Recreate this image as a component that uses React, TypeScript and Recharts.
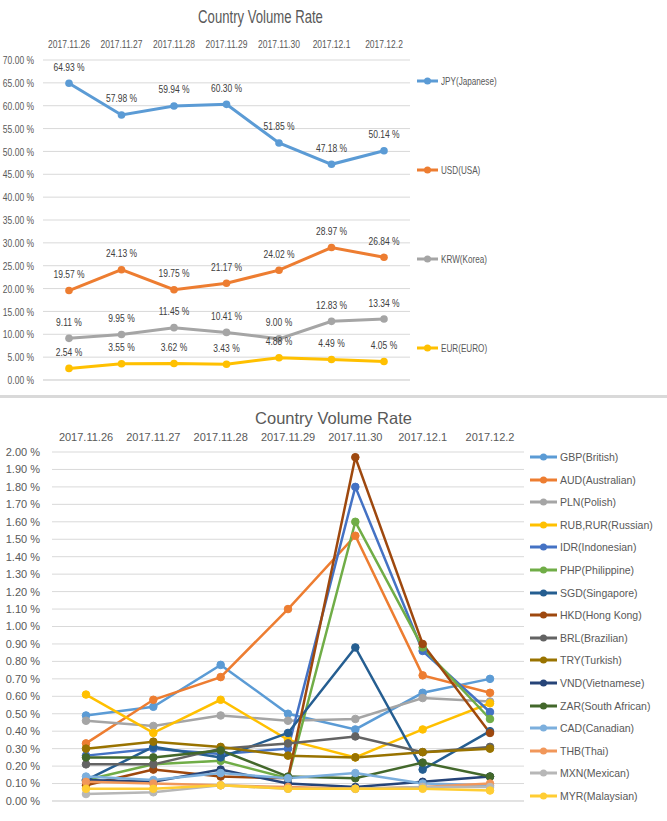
import { CartesianGrid, Line, LineChart, XAxis, YAxis } from "recharts";

const dates = ["2017.11.26", "2017.11.27", "2017.11.28", "2017.11.29", "2017.11.30", "2017.12.1", "2017.12.2"];

// top chart (major currencies), percent
const topTicks = [0, 5, 10, 15, 20, 25, 30, 35, 40, 45, 50, 55, 60, 65, 70];
const jpy = [64.93, 57.98, 59.94, 60.3, 51.85, 47.18, 50.14];
const usd = [19.57, 24.13, 19.75, 21.17, 24.02, 28.97, 26.84];
const krw = [9.11, 9.95, 11.45, 10.41, 9.0, 12.83, 13.34];
const eur = [2.54, 3.55, 3.62, 3.43, 4.88, 4.49, 4.05];

// bottom chart (minor currencies), percent
const bottomTicks = [0, 0.1, 0.2, 0.3, 0.4, 0.5, 0.6, 0.7, 0.8, 0.9, 1.0, 1.1, 1.2, 1.3, 1.4, 1.5, 1.6, 1.7, 1.8, 1.9, 2.0];
const gbp = [0.49, 0.54, 0.78, 0.5, 0.41, 0.62, 0.7];
const aud = [0.33, 0.58, 0.71, 1.1, 1.52, 0.72, 0.62];
const pln = [0.46, 0.43, 0.49, 0.46, 0.47, 0.59, 0.57];
const rub = [0.61, 0.39, 0.58, 0.35, 0.25, 0.41, 0.56];
const idr = [0.26, 0.3, 0.27, 0.3, 1.8, 0.86, 0.51];
const php = [0.12, 0.21, 0.23, 0.13, 1.6, 0.88, 0.47];
const sgd = [0.12, 0.31, 0.25, 0.39, 0.88, 0.18, 0.4];
const hkd = [0.09, 0.18, 0.14, 0.13, 1.97, 0.9, 0.39];
const brl = [0.21, 0.21, 0.3, 0.33, 0.37, 0.28, 0.31];
const tryl = [0.3, 0.34, 0.31, 0.26, 0.25, 0.28, 0.3];
const vnd = [0.12, 0.11, 0.18, 0.1, 0.08, 0.11, 0.14];
const zar = [0.25, 0.25, 0.29, 0.14, 0.13, 0.22, 0.14];
const cad = [0.14, 0.12, 0.16, 0.13, 0.16, 0.1, 0.09];
const thb = [0.11, 0.1, 0.09, 0.08, 0.07, 0.08, 0.1];
const mxn = [0.04, 0.05, 0.09, 0.07, 0.07, 0.08, 0.08];
const myr = [0.07, 0.07, 0.09, 0.07, 0.07, 0.07, 0.06];

const edgeTicks = [0, 1, 2, 3, 4, 5, 6, 7];

type Series = { key: string; name: string; color: string; values: number[] };

const topSeries: Series[] = [
  { key: "jpy", name: "JPY(Japanese)", color: "#5B9BD5", values: jpy },
  { key: "usd", name: "USD(USA)", color: "#ED7D31", values: usd },
  { key: "krw", name: "KRW(Korea)", color: "#A5A5A5", values: krw },
  { key: "eur", name: "EUR(EURO)", color: "#FFC000", values: eur },
];

const bottomSeries: Series[] = [
  { key: "gbp", name: "GBP(British)", color: "#5B9BD5", values: gbp },
  { key: "aud", name: "AUD(Australian)", color: "#ED7D31", values: aud },
  { key: "pln", name: "PLN(Polish)", color: "#A5A5A5", values: pln },
  { key: "rub", name: "RUB,RUR(Russian)", color: "#FFC000", values: rub },
  { key: "idr", name: "IDR(Indonesian)", color: "#4472C4", values: idr },
  { key: "php", name: "PHP(Philippine)", color: "#70AD47", values: php },
  { key: "sgd", name: "SGD(Singapore)", color: "#255E91", values: sgd },
  { key: "hkd", name: "HKD(Hong Kong)", color: "#9E480E", values: hkd },
  { key: "brl", name: "BRL(Brazilian)", color: "#636363", values: brl },
  { key: "try", name: "TRY(Turkish)", color: "#997300", values: tryl },
  { key: "vnd", name: "VND(Vietnamese)", color: "#264478", values: vnd },
  { key: "zar", name: "ZAR(South African)", color: "#43682B", values: zar },
  { key: "cad", name: "CAD(Canadian)", color: "#7CAFDD", values: cad },
  { key: "thb", name: "THB(Thai)", color: "#F1975A", values: thb },
  { key: "mxn", name: "MXN(Mexican)", color: "#B7B7B7", values: mxn },
  { key: "myr", name: "MYR(Malaysian)", color: "#FFCD33", values: myr },
];

const toRows = (series: Series[]) =>
  dates.map((day, i) => {
    const row: Record<string, string | number> = { day };
    series.forEach((s) => (row[s.key] = s.values[i]));
    return row;
  });

const topData = toRows(topSeries);
const bottomData = toRows(bottomSeries);

const FONT = '"Liberation Sans", Arial, sans-serif';
const TEXT = "#595959";
const GRID = "#d9d9d9";
// the top picture is horizontally condensed (Calibri-ish), squeeze its text
const SX = 0.72;
const TOP_SIZE = 11.8;

const pct = (v: number) => `${Number(v).toFixed(2)} %`;

function SquishText({ x, y, text, anchor, dy = 0, fill = TEXT, size = TOP_SIZE }: {
  x: number; y: number; text: string; anchor: "start" | "middle" | "end"; dy?: number | string; fill?: string; size?: number;
}) {
  return (
    <text transform={`translate(${x},${y}) scale(${SX},1)`} textAnchor={anchor} dy={dy} fill={fill} fontSize={size} fontFamily={FONT}>
      {text}
    </text>
  );
}

function LegendBox({ series, x, y0, step, lineLen, size, squeeze }: {
  series: Series[]; x: number; y0: number; step: number; lineLen: number; size: number; squeeze: number;
}) {
  return (
    <>
      {series.map((s, i) => (
        <div key={s.key} style={{ position: "absolute", left: x, top: y0 + i * step - 8, height: 16, display: "flex", alignItems: "center", fontFamily: FONT, fontSize: size, color: TEXT, whiteSpace: "nowrap" }}>
          <svg width={lineLen} height={10} style={{ marginRight: 3 }}>
            <line x1={0} y1={5} x2={lineLen} y2={5} stroke={s.color} strokeWidth={3} />
            <circle cx={lineLen / 2} cy={5} r={3.5} fill={s.color} />
          </svg>
          <span style={{ display: "inline-block", transform: `scaleX(${squeeze})`, transformOrigin: "left center" }}>{s.name}</span>
        </div>
      ))}
    </>
  );
}

function TopChart() {
  return (
    <div style={{ position: "absolute", left: 0, top: 0, width: 667, height: 395 }}>
      <div style={{ position: "absolute", left: 0, top: 6, width: 521, lineHeight: "22px", textAlign: "center", fontFamily: FONT, fontSize: 17.5, color: TEXT, transform: `scaleX(0.75)` }}>
        Country Volume Rate
      </div>
      <LineChart width={667} height={395} data={topData} margin={{ top: 30, right: 257, bottom: 5, left: 0 }}>
        <CartesianGrid xAxisId="top" vertical={false} stroke={GRID} />
        <XAxis xAxisId="top" dataKey="day" orientation="top" height={30} axisLine={false} tickLine={false} tickMargin={6} interval={0}
          padding={{ left: 26, right: 26 }}
          tick={(p: any) => <SquishText x={p.x} y={p.y} text={String(p.payload.value)} anchor="middle" />} />
        <XAxis xAxisId="edge" type="number" domain={[0, 7]} ticks={edgeTicks} tick={false} height={10} tickSize={5}
          axisLine={{ stroke: GRID }} tickLine={{ stroke: GRID }} />
        <YAxis domain={[0, 70]} ticks={topTicks} interval={0} width={43} axisLine={false} tickLine={false} tickMargin={3}
          tick={(p: any) => <SquishText x={p.x} y={p.y} text={pct(p.payload.value)} anchor="end" dy="0.355em" />} />
        {topSeries.map((s) => (
          <Line key={s.key} xAxisId="top" dataKey={s.key} name={s.name} stroke={s.color} strokeWidth={3}
            activeDot={false} isAnimationActive={false}
            dot={(p: any) => (
              <g key={`${s.key}-${p.index}`}>
                <circle cx={p.cx} cy={p.cy} r={3.8} fill={s.color} />
                <SquishText x={p.cx} y={p.cy - 12.5} text={pct(p.value)} anchor="middle" fill="#404040" />
              </g>
            )} />
        ))}
      </LineChart>
      <LegendBox series={topSeries} x={417} y0={81} step={89} lineLen={21} size={11.3} squeeze={SX} />
    </div>
  );
}

function BottomChart() {
  return (
    <div style={{ position: "absolute", left: 0, top: 398, width: 667, height: 423 }}>
      <div style={{ position: "absolute", left: 0, top: 9, width: 667, lineHeight: "22px", textAlign: "center", fontFamily: FONT, fontSize: 16.5, color: TEXT }}>
        Country Volume Rate
      </div>
      <LineChart width={667} height={423} data={bottomData} margin={{ top: 24, right: 143, bottom: 10, left: 0 }}>
        <CartesianGrid xAxisId="top" vertical={false} stroke={GRID} />
        <XAxis xAxisId="top" dataKey="day" orientation="top" height={30} axisLine={false} tickLine={false} tickMargin={5} interval={0}
          padding={{ left: 34, right: 34 }} tick={{ fill: TEXT, fontSize: 11, fontFamily: FONT }} />
        <XAxis xAxisId="edge" type="number" domain={[0, 7]} ticks={edgeTicks} tick={false} height={10} tickSize={5}
          axisLine={{ stroke: GRID }} tickLine={{ stroke: GRID }} />
        <YAxis domain={[0, 2]} ticks={bottomTicks} interval={0} width={52} axisLine={false} tickLine={false} tickMargin={6}
          tickFormatter={pct} tick={{ fill: TEXT, fontSize: 11, fontFamily: FONT }} />
        {bottomSeries.map((s) => (
          <Line key={s.key} xAxisId="top" dataKey={s.key} name={s.name} stroke={s.color} strokeWidth={2.5}
            dot={{ r: 3.8, fill: s.color, stroke: s.color, strokeWidth: 1 }} activeDot={false} isAnimationActive={false} />
        ))}
      </LineChart>
      <LegendBox series={bottomSeries} x={530} y0={59} step={22.6} lineLen={27} size={10.5} squeeze={1} />
    </div>
  );
}

export default function App() {
  return (
    <div style={{ position: "absolute", left: 0, top: 0, width: 667, height: 821, background: "#fff", overflow: "hidden" }}>
      <TopChart />
      <div style={{ position: "absolute", left: 0, top: 395, width: 667, height: 3, background: GRID }} />
      <BottomChart />
    </div>
  );
}
